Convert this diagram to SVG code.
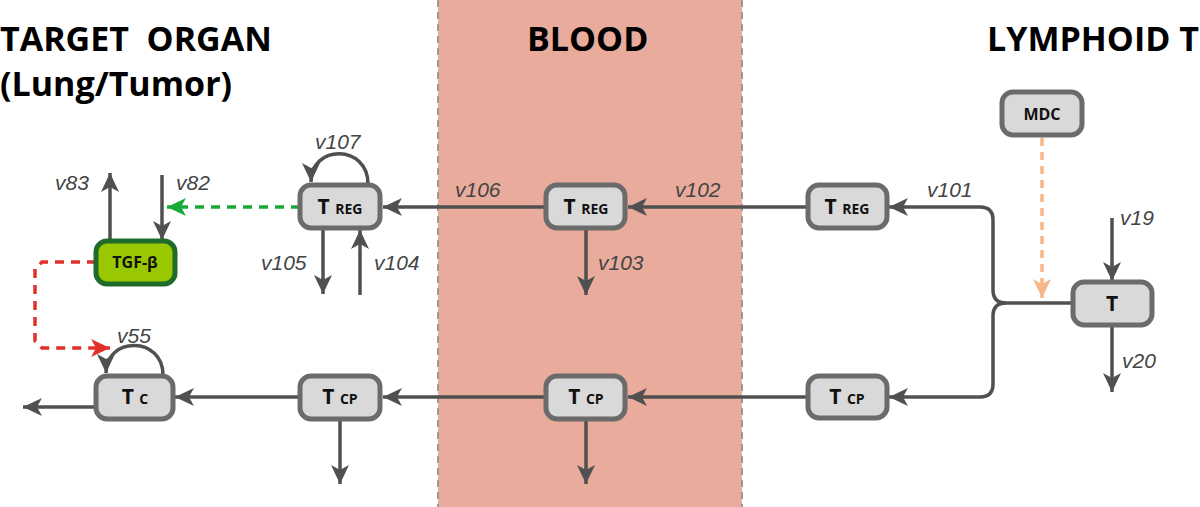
<svg xmlns="http://www.w3.org/2000/svg" width="1200" height="507" viewBox="0 0 1200 507">
<defs>
<marker id="ah" markerUnits="userSpaceOnUse" markerWidth="22" markerHeight="20" refX="19" refY="9" orient="auto">
<path d="M0,0 L19,9 L0,18 L5,9 z" fill="#505050"/>
</marker>
<marker id="ahg" markerUnits="userSpaceOnUse" markerWidth="22" markerHeight="20" refX="19" refY="9" orient="auto">
<path d="M0,0 L19,9 L0,18 L5,9 z" fill="#1aaa3a"/>
</marker>
<marker id="ahr" markerUnits="userSpaceOnUse" markerWidth="22" markerHeight="20" refX="19" refY="9" orient="auto">
<path d="M0,0 L19,9 L0,18 L5,9 z" fill="#e0302a"/>
</marker>
<marker id="aho" markerUnits="userSpaceOnUse" markerWidth="22" markerHeight="20" refX="19" refY="9" orient="auto">
<path d="M0,0 L19,9 L0,18 L5,9 z" fill="#f8b58a"/>
</marker>
</defs>
<style>
.title{font-family:"Open Sans","Liberation Sans",sans-serif;font-weight:bold;font-size:34px;fill:#000;white-space:pre}
.box{fill:#d9d9d9;stroke:#6b6b6b;stroke-width:5}
.nt{font-family:"Open Sans","Liberation Sans",sans-serif;font-weight:bold;font-size:21px;fill:#111;text-anchor:middle}
.sub{font-size:14px}
.lbl{font-family:"Liberation Sans",Arial,sans-serif;font-style:italic;font-size:21px;fill:#444}
.ln{fill:none;stroke:#505050;stroke-width:3.5}
</style>
<rect x="438" y="-2" width="304" height="512" fill="#e9ab9b"/>
<line x1="438" y1="0" x2="438" y2="507" stroke="#9a9a9a" stroke-width="2" stroke-dasharray="7,5"/>
<line x1="742" y1="0" x2="742" y2="507" stroke="#9a9a9a" stroke-width="2" stroke-dasharray="7,5"/>
<text class="title" x="0" y="51" xml:space="preserve">TARGET  ORGAN</text>
<text class="title" x="0" y="96">(Lung/Tumor)</text>
<text class="title" x="527" y="51">BLOOD</text>
<text class="title" x="987" y="51">LYMPHOID T</text>

<g id="connectors">
<path class="ln" d="M1073,303 L1006,303 Q993,303 993,290 L993,220 Q993,207 980,207 L889,207" marker-end="url(#ah)"/>
<path class="ln" d="M1006,303 Q993,303 993,316 L993,384 Q993,397 980,397 L889,397" marker-end="url(#ah)"/>
<line x1="1042" y1="138" x2="1042" y2="298" stroke="#f8b58a" stroke-width="3.5" stroke-dasharray="8,6" marker-end="url(#aho)"/>
<line class="ln" x1="1112" y1="218" x2="1112" y2="281" marker-end="url(#ah)"/>
<line class="ln" x1="1112" y1="326" x2="1112" y2="392" marker-end="url(#ah)"/>
<line class="ln" x1="808" y1="207" x2="628" y2="207" marker-end="url(#ah)"/>
<line class="ln" x1="546" y1="207" x2="383" y2="207" marker-end="url(#ah)"/>
<line class="ln" x1="586" y1="229" x2="586" y2="295" marker-end="url(#ah)"/>
<line class="ln" x1="808" y1="397" x2="628" y2="397" marker-end="url(#ah)"/>
<line class="ln" x1="546" y1="397" x2="383" y2="397" marker-end="url(#ah)"/>
<line class="ln" x1="586" y1="420" x2="586" y2="484" marker-end="url(#ah)"/>
<line class="ln" x1="300" y1="397" x2="175" y2="397" marker-end="url(#ah)"/>
<line class="ln" x1="340" y1="420" x2="340" y2="484" marker-end="url(#ah)"/>
<line class="ln" x1="96" y1="407" x2="23" y2="407" marker-end="url(#ah)"/>
<path class="ln" d="M163,375 C163,336 106,336 106,373" marker-end="url(#ah)"/>
<path class="ln" d="M368,184 C368,144 311,144 311,182" marker-end="url(#ah)"/>
<line x1="300" y1="207" x2="167" y2="207" stroke="#1aaa3a" stroke-width="3.5" stroke-dasharray="9,7" marker-end="url(#ahg)"/>
<path d="M96,262 L42,262 L35,269 L35,341 L42,348 L110,348" fill="none" stroke="#e0302a" stroke-width="3.5" stroke-dasharray="9,7" marker-end="url(#ahr)"/>
<line class="ln" x1="162" y1="175" x2="162" y2="240" marker-end="url(#ah)"/>
<line class="ln" x1="110" y1="240" x2="110" y2="173" marker-end="url(#ah)"/>
<line class="ln" x1="323" y1="229" x2="323" y2="294" marker-end="url(#ah)"/>
<line class="ln" x1="360" y1="295" x2="360" y2="230" marker-end="url(#ah)"/>
</g>

<g id="labels">
<text class="lbl" x="927" y="197">v101</text>
<text class="lbl" x="1120" y="225">v19</text>
<text class="lbl" x="1122" y="368">v20</text>
<text class="lbl" x="675" y="197">v102</text>
<text class="lbl" x="455" y="197">v106</text>
<text class="lbl" x="598" y="270">v103</text>
<text class="lbl" x="315" y="149">v107</text>
<text class="lbl" x="176" y="190">v82</text>
<text class="lbl" x="55" y="190">v83</text>
<text class="lbl" x="261" y="270">v105</text>
<text class="lbl" x="374" y="270">v104</text>
<text class="lbl" x="117" y="343">v55</text>
</g>

<g id="mdc"><rect class="box" x="1002" y="92" width="80" height="43" rx="11"/><text class="nt" x="1042" y="120" style="font-size:16px">MDC</text></g>
<g id="t"><rect class="box" x="1073" y="282" width="79" height="43" rx="11"/><text class="nt" x="1112" y="311">T</text></g>
<g id="treg-lymph"><rect class="box" x="808" y="185" width="79" height="43" rx="11"/><text class="nt" x="847" y="214">T <tspan class="sub">REG</tspan></text></g>
<g id="tcp-lymph"><rect class="box" x="808" y="376" width="79" height="42" rx="11"/><text class="nt" x="847" y="404">T <tspan class="sub">CP</tspan></text></g>
<g id="treg-blood"><rect class="box" x="546" y="185" width="79" height="43" rx="11"/><text class="nt" x="586" y="214">T <tspan class="sub">REG</tspan></text></g>
<g id="tcp-blood"><rect class="box" x="546" y="376" width="79" height="43" rx="11"/><text class="nt" x="586" y="404">T <tspan class="sub">CP</tspan></text></g>
<g id="treg-organ"><rect class="box" x="300" y="185" width="80" height="43" rx="11"/><text class="nt" x="340" y="214">T <tspan class="sub">REG</tspan></text></g>
<g id="tcp-organ"><rect class="box" x="300" y="376" width="80" height="43" rx="11"/><text class="nt" x="340" y="404">T <tspan class="sub">CP</tspan></text></g>
<g id="tc"><rect class="box" x="96" y="376" width="77" height="43" rx="11"/><text class="nt" x="135" y="404">T <tspan class="sub">C</tspan></text></g>
<g id="tgfb"><rect x="96" y="241" width="79" height="43" rx="11" fill="#99c800" stroke="#1e6b2a" stroke-width="5"/><text class="nt" x="135" y="268" style="font-size:16px">TGF-β</text></g>
</svg>
